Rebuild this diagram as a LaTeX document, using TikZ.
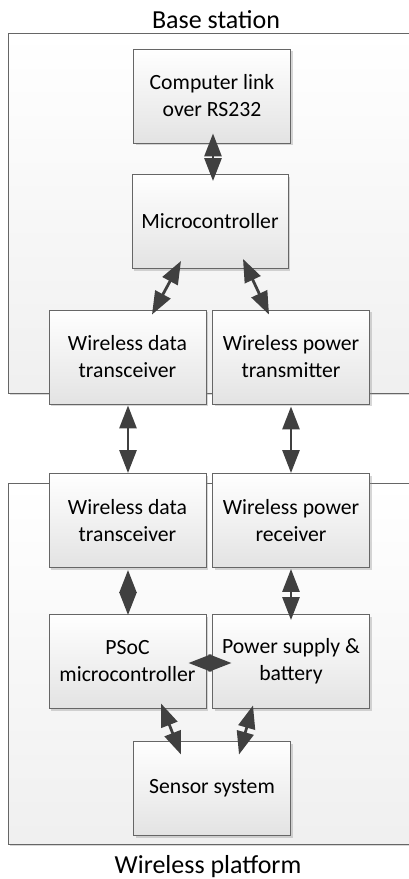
\documentclass[tikz,border=0pt]{standalone}
\usepackage{fontspec}
\setmainfont{Carlito}
\usetikzlibrary{arrows.meta,shadows}
\begin{document}
\begin{tikzpicture}[x=1pt,y=-1pt,
  shd/.style={drop shadow={shadow xshift=2pt,shadow yshift=-2pt,opacity=0.35,fill=black!45}},
  container/.style={draw=black!60, line width=0.9pt, top color=white, bottom color=black!6, shd, inner sep=0pt},
  blk/.style={draw=black!60, line width=0.9pt, top color=white, bottom color=black!11, shd,
    minimum width=157pt, minimum height=94pt, inner sep=0pt, align=center,
    font=\fontsize{21.7}{27}\selectfont},
  tipa/.tip={Triangle[length=23pt,width=17pt]},
  biarrow/.style={draw=black!75, line width=2.8pt, tipa-tipa},
  ttl/.style={font=\fontsize{26}{31}\selectfont, inner sep=0pt}]
\useasboundingbox (0,0) rectangle (409,879);
\clip (0,0) rectangle (409,879);
% containers
\node[container, minimum width=412pt, minimum height=360pt] (bs) at (214,213) {};
\node[container, minimum width=412pt, minimum height=361pt] (wp) at (214,663.5) {};
\node[ttl, anchor=base] (bst) at (216,28) {Base station};
\node[ttl, anchor=base] (wpt0) at (208,873) {Wireless platform};
% blocks
\node[blk] (cl) at (212,96) {Computer link\\over RS232};
\node[blk, minimum width=156pt] (mc) at (210,221.5) {Microcontroller};
\node[blk] (wdt1) at (127.5,357) {Wireless data\\transceiver};
\node[blk] (wpt) at (291,357) {Wireless power\\transmitter};
\node[blk] (wdt2) at (127.5,520.5) {Wireless data\\transceiver};
\node[blk] (wpr) at (291,520.5) {Wireless power\\receiver};
\node[blk] (psoc) at (127.5,661.5) {PSoC\\microcontroller};
\node[blk] (ps) at (291,661.5) {Power supply \&\\battery};
\node[blk] (ss) at (212,788.5) {Sensor system};
% connectors
\draw[biarrow] ([shift={(1,-10)}]cl.south) -- ([shift={(3,7)}]mc.north);
\draw[biarrow] ([shift={(-29,-8)}]mc.south) -- ([shift={(24.5,5)}]wdt1.north);
\draw[biarrow] ([shift={(33,-10)}]mc.south) -- ([shift={(-22,5)}]wpt.north);
\draw[biarrow] ([shift={(0.5,1)}]wdt1.south) -- ([shift={(0.5,0)}]wdt2.north);
\draw[biarrow] ([shift={(0,2)}]wpt.south) -- (wpr.north);
\draw[biarrow] ([shift={(0.5,2)}]wdt2.south) -- ([shift={(0.5,1)}]psoc.north);
\draw[biarrow] ([shift={(0,1)}]wpr.south) -- ([shift={(0,6)}]ps.north);
\draw[biarrow] ([shift={(-18,1.5)}]psoc.east) -- ([shift={(19.5,1.5)}]ps.west);
\draw[biarrow] ([shift={(33.5,-5.5)}]psoc.south) -- ([shift={(-31,13.5)}]ss.north);
\draw[biarrow] ([shift={(-38,-3.5)}]ps.south) -- ([shift={(27,13.5)}]ss.north);
\end{tikzpicture}
\end{document}
